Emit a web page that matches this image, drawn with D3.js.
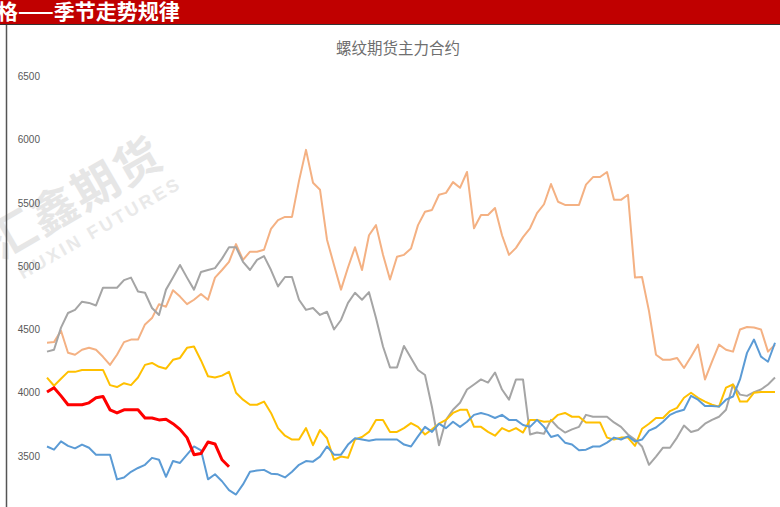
<html>
<head>
<meta charset="utf-8">
<style>
  body { margin: 0; background: #fff; }
  svg { display: block; }
</style>
</head>
<body>
<svg width="780" height="507"></svg>
<script src="https://cdn.jsdelivr.net/npm/d3@7"></script>
<script>
// 螺纹期货主力合约 - seasonal lines, one value per step (about 2.3 trading days)
const yTicks = [3500, 4000, 4500, 5000, 5500, 6000, 6500]

const orangeSeries = [4395,4400,4490,4316,4300,4340,4356,4340,4284,4220,4300,4400,4420,4420,4540,4590,4700,4680,4810,4760,
  4700,4735,4780,4735,4910,4970,5035,5175,5050,5115,5115,5130,5295,5365,5390,5390,5675,5920,5660,5605,
  5210,5010,4815,4990,5150,4970,5245,5325,5090,4895,5075,5090,5140,5325,5430,5445,5565,5580,5665,5620,
  5745,5300,5405,5405,5460,5245,5090,5145,5230,5300,5420,5490,5650,5510,5485,5485,5485,5645,5705,5705,
  5745,5525,5525,5565,4910,4915,4645,4300,4260,4260,4275,4195,4285,4380,4105,4245,4380,4340,4325,4500,
  4520,4515,4500,4325,4380]

const graySeries = [4325,4340,4515,4630,4655,4720,4710,4690,4830,4830,4830,4890,4910,4800,4790,4670,4615,4815,4910,5010,
  4910,4815,4955,4970,4985,5060,5150,5150,5035,4970,5050,5080,4970,4840,4915,4915,4735,4655,4670,4615,
  4640,4500,4575,4710,4790,4735,4795,4590,4365,4200,4200,4370,4275,4180,4140,3885,3585,3785,3865,3920,
  4025,4065,4105,4080,4160,4025,3945,4105,4105,3670,3685,3675,3785,3725,3685,3710,3730,3825,3810,3810,
  3810,3765,3730,3670,3630,3575,3430,3495,3565,3565,3645,3740,3690,3705,3755,3785,3810,3865,4065,3985,
  3975,4005,4025,4065,4120]

const yellowSeries = [4120,4055,4110,4165,4165,4180,4180,4180,4180,4060,4045,4075,4060,4120,4220,4235,4205,4190,4260,4275,
  4355,4365,4255,4130,4120,4135,4165,4000,3945,3905,3905,3930,3840,3720,3660,3630,3630,3720,3585,3705,
  3640,3470,3495,3485,3630,3650,3690,3785,3785,3690,3690,3720,3760,3730,3670,3710,3755,3785,3840,3865,
  3865,3730,3730,3690,3660,3720,3695,3720,3685,3785,3785,3770,3775,3825,3840,3810,3810,3765,3765,3765,
  3645,3630,3645,3645,3580,3715,3755,3800,3800,3855,3880,3960,4000,3960,3930,3905,3890,4040,4065,3930,
  3930,4000,4005,4005,4005]

const blueSeries = [3575,3550,3615,3580,3560,3590,3565,3510,3510,3510,3315,3330,3375,3405,3430,3485,3470,3335,3460,3445,
  3510,3575,3545,3315,3355,3300,3230,3195,3275,3375,3385,3390,3360,3355,3330,3375,3430,3460,3455,3495,
  3575,3510,3510,3590,3640,3630,3620,3630,3630,3630,3630,3590,3575,3655,3730,3690,3755,3720,3770,3730,
  3770,3825,3840,3825,3800,3825,3785,3785,3745,3730,3785,3730,3650,3665,3605,3590,3545,3550,3575,3575,
  3605,3645,3630,3655,3615,3630,3700,3725,3770,3825,3850,3865,3975,3945,3895,3895,3890,3945,3970,4105,
  4315,4420,4285,4245,4395]

const redSeries = [4005,4040,3975,3905,3905,3905,3920,3960,3970,3865,3840,3865,3865,3865,3800,3800,3785,3790,3755,3710,
  3645,3510,3520,3610,3595,3470,3415]

const series = [
  { name: "orange", values: orangeSeries, color: "#F4B183", width: 2 },
  { name: "gray", values: graySeries, color: "#A5A5A5", width: 2 },
  { name: "yellow", values: yellowSeries, color: "#FFC000", width: 2 },
  { name: "blue", values: blueSeries, color: "#5B9BD5", width: 2 },
  { name: "red", values: redSeries, color: "#FF0000", width: 3 }
]

const svg = d3.select("svg")

// watermark, partly off the left edge like the slide
const wm = svg.append("g").attr("transform", "translate(84,212) rotate(-30)")
wm.append("text").attr("x", 0).attr("y", 0).attr("text-anchor", "middle")
  .attr("font-family", "Noto Sans CJK SC").attr("font-weight", "bold").attr("font-size", 46)
  .attr("letter-spacing", 2).attr("fill", "#e6e6e6").text("汇鑫期货")
wm.append("text").attr("x", 6).attr("y", 28).attr("text-anchor", "middle")
  .attr("font-family", "Liberation Sans").attr("font-weight", "bold").attr("font-size", 18)
  .attr("letter-spacing", 3).attr("fill", "#e9e9e9").text("HUXIN FUTURES")

// header bar
svg.append("rect").attr("x", 0).attr("y", 0).attr("width", 780).attr("height", 24).attr("fill", "#C00000")
svg.append("text").attr("x", -3).attr("y", 19)
  .attr("font-family", "Noto Sans CJK SC").attr("font-weight", "bold").attr("font-size", 21)
  .attr("fill", "#fff").text("格——季节走势规律")
svg.append("line").attr("x1", 0).attr("x2", 780).attr("y1", 24.5).attr("y2", 24.5).attr("stroke", "#333").attr("stroke-width", 1)
svg.append("line").attr("x1", 6.5).attr("x2", 6.5).attr("y1", 25).attr("y2", 507).attr("stroke", "#555").attr("stroke-width", 1.5)

// title
svg.append("text").attr("x", 398).attr("y", 54).attr("text-anchor", "middle")
  .attr("font-family", "Noto Sans CJK SC").attr("font-size", 15.5)
  .attr("fill", "#6f6f6f").text("螺纹期货主力合约")

const x = d3.scaleLinear().domain([0, orangeSeries.length - 1]).range([47, 775])
const y = d3.scaleLinear().domain([3000, 6500]).range([519.2, 76.5])

// y axis labels only
const yAxis = d3.axisLeft(y).tickValues(yTicks).tickFormat(d3.format("d")).tickSize(0).tickPadding(0)
const ag = svg.append("g").attr("transform", "translate(40,0)").call(yAxis)
ag.select(".domain").remove()
ag.selectAll("text").attr("font-family", "Liberation Sans").attr("font-size", 10).attr("fill", "#595959")

const line = d3.line().x((d, i) => x(i)).y(d => y(d))

svg.append("g").selectAll("path").data(series).join("path")
  .attr("fill", "none")
  .attr("stroke", d => d.color)
  .attr("stroke-width", d => d.width)
  .attr("stroke-linejoin", "round")
  .attr("d", d => line(d.values))
</script>
</body>
</html>
